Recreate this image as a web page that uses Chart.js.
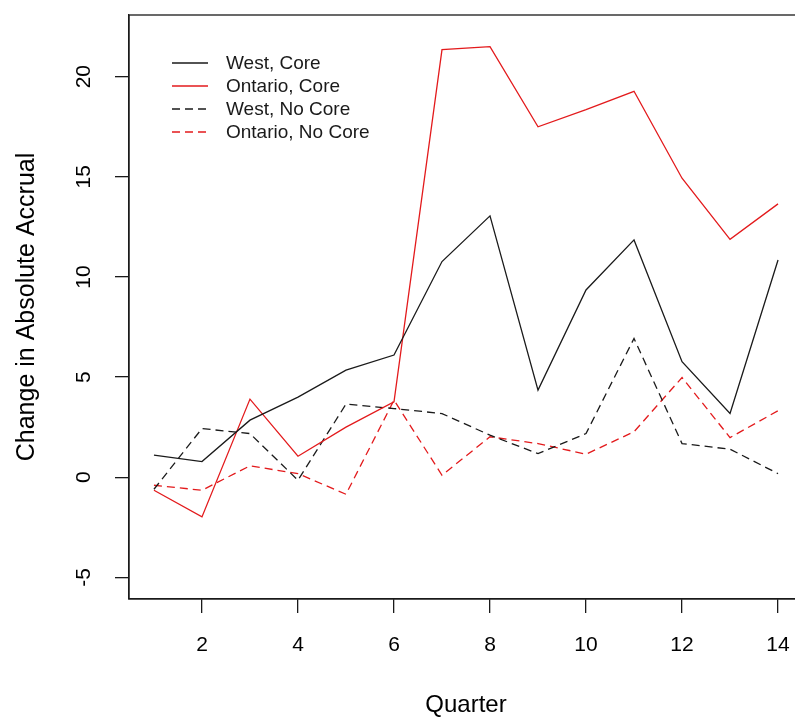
<!DOCTYPE html>
<html>
<head>
<meta charset="utf-8">
<title>Change in Absolute Accrual</title>
<script src="https://cdn.jsdelivr.net/npm/chart.js@4.4.0/dist/chart.umd.min.js"></script>
<style>
html, body { margin: 0; padding: 0; background: #fff; overflow: hidden; }
#wrap { width: 830px; height: 718px; }
</style>
</head>
<body>
<div id="wrap"><canvas id="mycanvas"></canvas></div>
<script>
// values
var quarters = [1, 2, 3, 4, 5, 6, 7, 8, 9, 10, 11, 12, 13, 14];
var westCore = [1.1, 0.78, 2.85, 4.0, 5.35, 6.1, 10.77, 13.05, 4.35, 9.35, 11.85, 5.77, 3.18, 10.85];
var ontarioCore = [-0.65, -1.98, 3.9, 1.05, 2.5, 3.77, 21.35, 21.5, 17.5, 18.35, 19.27, 14.93, 11.88, 13.65];
var westNoCore = [-0.6, 2.43, 2.18, -0.15, 3.65, 3.43, 3.18, 2.1, 1.18, 2.18, 6.93, 1.68, 1.4, 0.18];
var ontarioNoCore = [-0.4, -0.65, 0.57, 0.18, -0.85, 3.85, 0.1, 2.02, 1.68, 1.15, 2.27, 4.98, 1.98, 3.32];
var seriesLabels = ['West, Core', 'Ontario, Core', 'West, No Core', 'Ontario, No Core'];
var xTicks = [2, 4, 6, 8, 10, 12, 14];
var yTicks = [-5, 0, 5, 10, 15, 20];

var FONT = '"Liberation Sans", Arial, sans-serif';
var INK = '#1a1a1a';
var RED = '#e31a1c';

Chart.defaults.font.family = FONT;

function pts(vals) {
	return quarters.map(function(q, i) { return { x: q, y: vals[i] }; });
}

// R style: box round the plot area
var plotBox = {
	id: 'plotBox',
	afterDraw: function(chart) {
		var a = chart.chartArea, ctx = chart.ctx;
		ctx.save();
		ctx.strokeStyle = INK;
		ctx.lineWidth = 1.3;
		ctx.strokeRect(a.left, a.top, a.right - a.left, a.bottom - a.top);
		ctx.restore();
	}
};

// y tick labels rotated like R's las=0
var yLabels = {
	id: 'yLabels',
	afterDraw: function(chart) {
		var ctx = chart.ctx, sc = chart.scales.y;
		ctx.save();
		ctx.font = '21px ' + FONT;
		ctx.fillStyle = '#000';
		ctx.textAlign = 'center';
		ctx.textBaseline = 'middle';
		yTicks.forEach(function(v) {
			ctx.save();
			ctx.translate(84, sc.getPixelForValue(v));
			ctx.rotate(-Math.PI / 2);
			ctx.fillText(String(v), 0, 0);
			ctx.restore();
		});
		ctx.restore();
	}
};

var rLegend = {
	id: 'rLegend',
	afterDraw: function(chart) {
		var ctx = chart.ctx;
		ctx.save();
		ctx.font = '19px ' + FONT;
		ctx.textBaseline = 'middle';
		chart.data.datasets.forEach(function(ds, i) {
			var y = 63 + i * 23;
			ctx.strokeStyle = ds.borderColor;
			ctx.lineWidth = ds.borderWidth;
			ctx.setLineDash(ds.borderDash || []);
			ctx.beginPath();
			ctx.moveTo(172, y);
			ctx.lineTo(208, y);
			ctx.stroke();
			ctx.setLineDash([]);
			ctx.fillStyle = INK;
			ctx.fillText(ds.label, 226, y + 1);
		});
		ctx.restore();
	}
};

var chartdata = {
	datasets: [
		{ label: seriesLabels[0], data: pts(westCore), borderColor: INK, borderWidth: 1.3 },
		{ label: seriesLabels[1], data: pts(ontarioCore), borderColor: RED, borderWidth: 1.3 },
		{ label: seriesLabels[2], data: pts(westNoCore), borderColor: INK, borderWidth: 1.3, borderDash: [8, 5] },
		{ label: seriesLabels[3], data: pts(ontarioNoCore), borderColor: RED, borderWidth: 1.3, borderDash: [8, 5] }
	]
};

var ctx = document.getElementById('mycanvas');

var lineGraph = new Chart(ctx, {
	type: 'line',
	data: chartdata,
	plugins: [plotBox, yLabels, rLegend],
	options: {
		responsive: true,
		maintainAspectRatio: false,
		animation: false,
		layout: { padding: { top: 15, right: 27, bottom: 0, left: 0 } },
		elements: {
			point: { radius: 0, hoverRadius: 0 },
			line: { tension: 0, fill: false }
		},
		plugins: {
			legend: { display: false },
			tooltip: { enabled: false }
		},
		scales: {
			x: {
				type: 'linear',
				min: 0.48,
				max: 14.52,
				afterBuildTicks: function(s) { s.ticks = xTicks.map(function(v) { return { value: v }; }); },
				afterFit: function(s) { s.height = 119; },
				grid: { drawOnChartArea: false, drawTicks: true, tickLength: 14, color: INK, lineWidth: 1.3 },
				border: { display: true, color: INK, width: 1.3 },
				ticks: { color: '#000', font: { size: 21 }, padding: 20, maxRotation: 0, autoSkip: false },
				title: { display: true, text: 'Quarter', color: '#000', font: { size: 24 }, padding: { top: 0, bottom: -2 } }
			},
			y: {
				type: 'linear',
				min: -6.08,
				max: 23.08,
				afterBuildTicks: function(s) { s.ticks = yTicks.map(function(v) { return { value: v }; }); },
				afterFit: function(s) { s.width = 129; },
				grid: { drawOnChartArea: false, drawTicks: true, tickLength: 14, color: INK, lineWidth: 1.3 },
				border: { display: true, color: INK, width: 1.3 },
				ticks: { display: false },
				title: { display: true, text: 'Change in Absolute Accrual', color: '#000', font: { size: 25 }, padding: { top: 12, bottom: 0 } }
			}
		}
	}
});
</script>
</body>
</html>
